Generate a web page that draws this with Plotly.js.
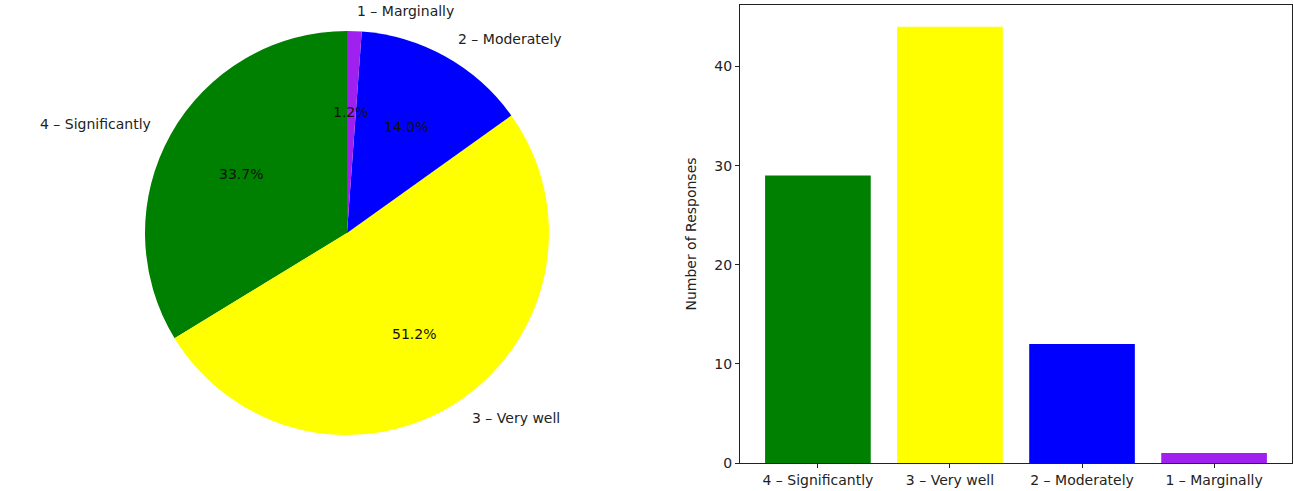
<!DOCTYPE html>
<html>
<head>
<meta charset="utf-8">
<script src="https://cdn.plot.ly/plotly-3.0.1.min.js"></script>
<style>html,body{margin:0;padding:0;background:#fff;}#chart{width:1293px;height:491px;}</style>
</head>
<body>
<div id="chart"></div>
<script>
const categories = ["4 – Significantly", "3 – Very well", "2 – Moderately", "1 – Marginally"];
const responses = [29, 44, 12, 1];
const colors = ["#008000", "#ffff00", "#0000ff", "#a020f0"];
const yTicks = [0, 10, 20, 30, 40];

const W = 1293, H = 491;
// pie geometry (pixels)
const pieCx = 347, pieCy = 233, pieR = 202;
const pieDomX = [(pieCx - pieR) / W, (pieCx + pieR) / W];
const pieDomY = [1 - (pieCy + pieR) / H, 1 - (pieCy - pieR) / H];

const total = responses.reduce((a, b) => a + b, 0);
const annotations = [];
let cum = 0;
responses.forEach((v, i) => {
  const mid = (90 + 360 * (cum + v / 2) / total) * Math.PI / 180;
  cum += v;
  const cx = Math.cos(mid), sy = Math.sin(mid);
  // label at 1.1 R
  const lx = pieCx + 1.1 * pieR * cx, ly = pieCy - 1.1 * pieR * sy;
  annotations.push({
    x: lx / W, y: 1 - ly / H, xref: 'paper', yref: 'paper', showarrow: false,
    text: categories[i], xanchor: cx > 0 ? 'left' : 'right', yanchor: 'middle',
    font: {family: 'DejaVu Sans', size: 14, color: '#222'}
  });
  // percentage at 0.6 R
  const px = pieCx + 0.6 * pieR * cx, py = pieCy - 0.6 * pieR * sy;
  annotations.push({
    x: px / W, y: 1 - py / H, xref: 'paper', yref: 'paper', showarrow: false,
    text: (100 * v / total).toFixed(1) + '%', xanchor: 'center', yanchor: 'middle',
    font: {family: 'DejaVu Sans', size: 14, color: '#111'}
  });
});

// Plotly counterclockwise pies end the first slice at 'rotation'; shift so it starts at 12 o'clock
const pie = {
  type: 'pie', values: responses, labels: categories, sort: false,
  direction: 'counterclockwise', rotation: -360 * responses[0] / total,
  marker: {colors: colors, line: {width: 0}},
  textinfo: 'none', hoverinfo: 'none', showlegend: false,
  domain: {x: pieDomX, y: pieDomY}
};

const bar = {
  type: 'bar', x: [0, 1, 2, 3], y: responses, width: 0.8,
  marker: {color: colors, line: {width: 0}},
  xaxis: 'x', yaxis: 'y', showlegend: false, hoverinfo: 'none'
};

const layout = {
  width: W, height: H,
  margin: {l: 0, r: 0, t: 0, b: 0},
  paper_bgcolor: '#fff', plot_bgcolor: '#fff',
  font: {family: 'DejaVu Sans', size: 14, color: '#222'},
  xaxis: {
    domain: [740 / W, 1292 / W], range: [-0.59, 3.59],
    tickmode: 'array', tickvals: [0, 1, 2, 3], ticktext: categories,
    ticks: 'outside', ticklen: 4, tickcolor: '#222', tickfont: {size: 14},
    showline: true, mirror: true, linecolor: '#222', linewidth: 1,
    showgrid: false, zeroline: false, automargin: false, fixedrange: true
  },
  yaxis: {
    domain: [1 - 463 / H, 1 - 5 / H], range: [0, 46.2],
    tickmode: 'array', tickvals: yTicks,
    ticks: 'outside', ticklen: 4, tickcolor: '#222', tickfont: {size: 14},
    showline: true, mirror: true, linecolor: '#222', linewidth: 1,
    showgrid: false, zeroline: false, automargin: false, fixedrange: true,
    title: {text: 'Number of Responses', font: {size: 14}, standoff: 14}
  },
  annotations: annotations
};

Plotly.newPlot('chart', [pie, bar], layout, {displayModeBar: false, staticPlot: true});
</script>
</body>
</html>
